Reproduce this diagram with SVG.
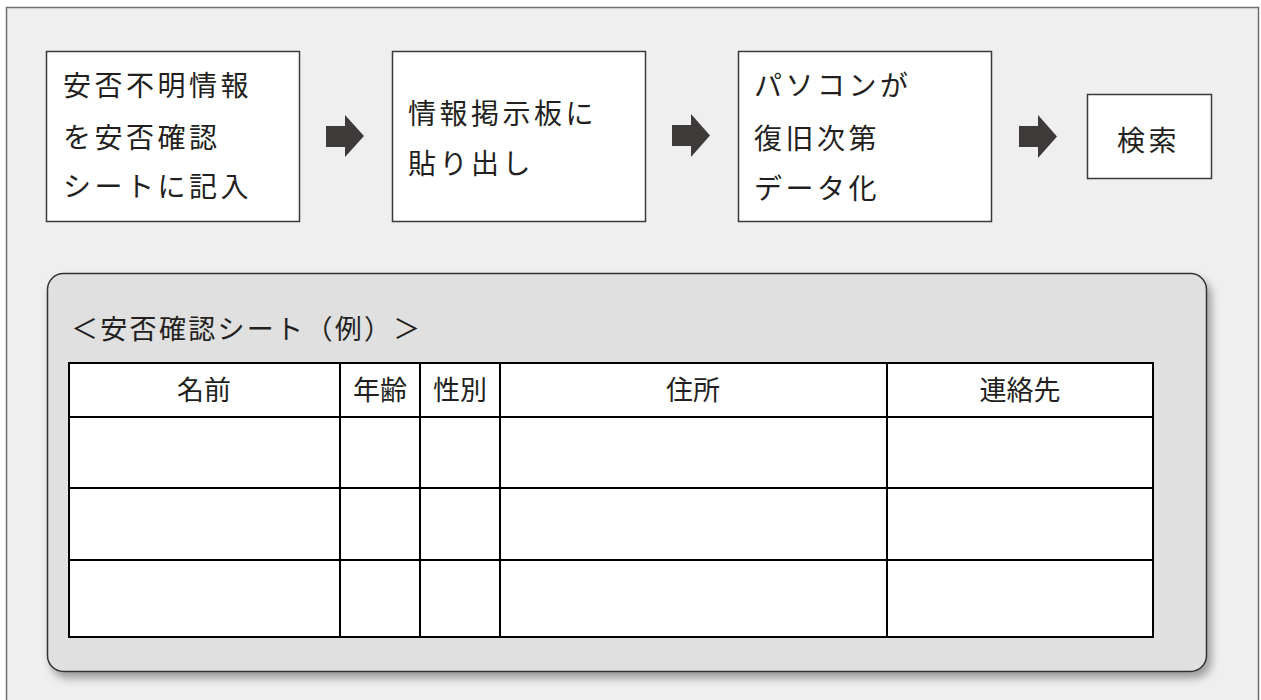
<svg xmlns="http://www.w3.org/2000/svg" width="1261" height="700" viewBox="0 0 1261 700">
<defs>
<style>
.frame{fill:#efefef;stroke:#6e6e6e;stroke-width:1.5}
.box{fill:#ffffff;stroke:#3a3a3a;stroke-width:1.5}
.t{font-family:"Noto Sans CJK JP","Noto Sans CJK SC",sans-serif;font-size:28px;letter-spacing:3.5px;fill:#231f20}
.th{font-family:"Noto Sans CJK JP","Noto Sans CJK SC",sans-serif;font-size:27px;fill:#231f20;text-anchor:middle}
.arrow{fill:#3e3a39}
.grid{stroke:#000;stroke-width:2;fill:none}
</style>
<filter id="sh" x="-5%" y="-5%" width="112%" height="120%">
<feDropShadow dx="4" dy="6" stdDeviation="4" flood-color="#000" flood-opacity="0.35"/>
</filter>
</defs>
<rect class="frame" x="6.5" y="7.5" width="1252" height="700"/>
<g id="node-1">
<rect class="box" x="46.5" y="51.5" width="253" height="170"/>
<text class="t" x="63" y="96">安否不明情報</text>
<text class="t" x="63" y="148">を安否確認</text>
<text class="t" x="63" y="197">シートに記入</text>
</g>
<g id="node-2">
<rect class="box" x="392.5" y="51.5" width="253" height="170"/>
<text class="t" x="408" y="124">情報掲示板に</text>
<text class="t" x="408" y="174">貼り出し</text>
</g>
<g id="node-3">
<rect class="box" x="738.5" y="51.5" width="253" height="170"/>
<text class="t" x="754" y="96">パソコンが</text>
<text class="t" x="754" y="149">復旧次第</text>
<text class="t" x="754" y="199">データ化</text>
</g>
<g id="node-4">
<rect class="box" x="1087.5" y="94.5" width="124" height="84"/>
<text class="t" x="1117" y="151">検索</text>
</g>
<g id="connectors">
<polygon class="arrow" points="326,126 345,126 345,115 364,136 345,157 345,147 326,147"/>
<polygon class="arrow" points="672,125 691,125 691,114 710,135.5 691,157 691,146 672,146"/>
<polygon class="arrow" points="1019,126 1038,126 1038,115 1057,136.5 1038,158 1038,147 1019,147"/>
</g>
<g id="sheet">
<rect x="47.5" y="273.5" width="1159" height="398" rx="16" ry="16" fill="#dfe0df" stroke="#333" stroke-width="1.5" filter="url(#sh)"/>
<text class="t" x="71" y="339" style="font-size:27px;letter-spacing:2.3px">＜安否確認シート（例）＞</text>
<rect x="69" y="363" width="1084" height="274" fill="#fff"/>
<g class="grid">
<rect x="69" y="363" width="1084" height="274"/>
<line x1="69" y1="417" x2="1153" y2="417"/>
<line x1="69" y1="488" x2="1153" y2="488"/>
<line x1="69" y1="560" x2="1153" y2="560"/>
<line x1="340" y1="363" x2="340" y2="637"/>
<line x1="420" y1="363" x2="420" y2="637"/>
<line x1="500" y1="363" x2="500" y2="637"/>
<line x1="887" y1="363" x2="887" y2="637"/>
</g>
<text class="th" x="204" y="400">名前</text>
<text class="th" x="380" y="400">年齢</text>
<text class="th" x="460" y="400">性別</text>
<text class="th" x="693" y="400">住所</text>
<text class="th" x="1020" y="400">連絡先</text>
</g>
</svg>
